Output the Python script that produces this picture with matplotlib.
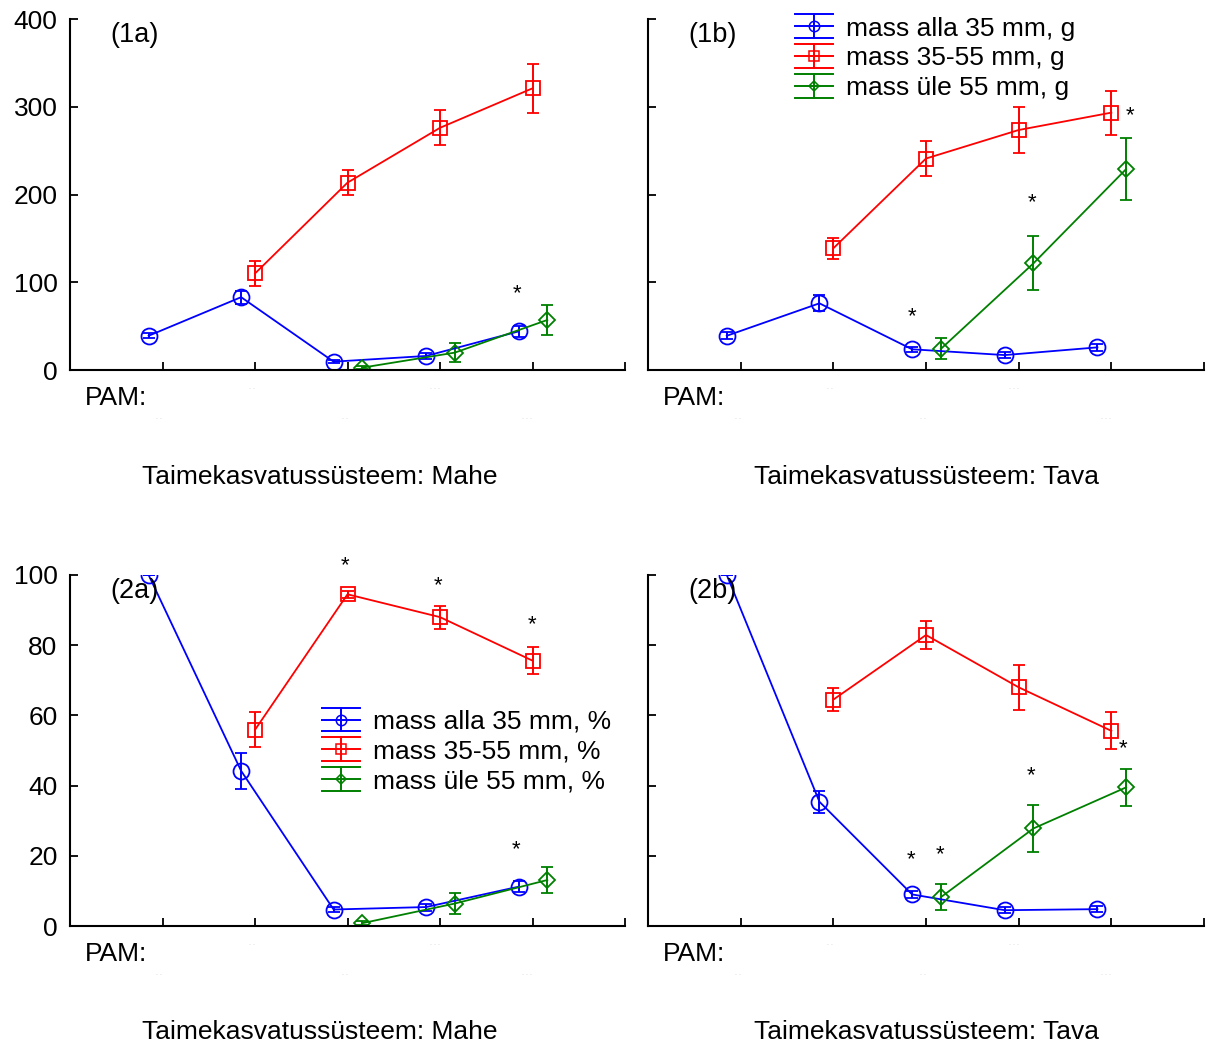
import numpy as np
import matplotlib
matplotlib.use("Agg")
import matplotlib.pyplot as plt
from matplotlib.lines import Line2D
from matplotlib.legend_handler import HandlerBase
from matplotlib.transforms import offset_copy

plt.rcParams['font.family'] = ['Liberation Sans', 'DejaVu Sans']

groups = [1, 2, 3, 4, 5]
red_groups = [2, 3, 4, 5]
green_groups = [3, 4, 5]

# (1a) Mahe, mass in grams
g_mahe_small = [39, 83, 9.5, 16, 44]
g_mahe_small_err = [3, 7.5, 2, 3, 6]
g_mahe_mid = [110, 213.5, 276, 321]
g_mahe_mid_err = [14.4, 14, 20, 28]
g_mahe_big = [2.7, 19.8, 57]
g_mahe_big_err = [2, 10.4, 17]

# (1b) Tava, mass in grams
g_tava_small = [39, 76, 23.6, 17, 25.8]
g_tava_small_err = [4, 9, 3, 3, 4]
g_tava_mid = [138.7, 241, 273.5, 293.3]
g_tava_mid_err = [12, 20, 26.6, 25]
g_tava_big = [24, 121.6, 229]
g_tava_big_err = [12, 30.8, 35]

# (2a) Mahe, share of mass in %
p_mahe_small = [100, 44.2, 4.7, 5.4, 11.2]
p_mahe_small_err = [0, 5.1, 0.8, 1, 1.5]
p_mahe_mid = [55.9, 94.5, 88, 75.6]
p_mahe_mid_err = [5, 1, 3.3, 3.9]
p_mahe_big = [0.8, 6.4, 13.1]
p_mahe_big_err = [0.5, 3.1, 3.8]

# (2b) Tava, share of mass in %
p_tava_small = [100, 35.4, 9.0, 4.5, 4.8]
p_tava_small_err = [0, 3.1, 1, 0.8, 0.8]
p_tava_mid = [64.5, 82.9, 68, 55.6]
p_tava_mid_err = [3.2, 3.9, 6.4, 5.3]
p_tava_big = [8.2, 27.8, 39.5]
p_tava_big_err = [3.7, 6.8, 5.3]

# significance marks (x, y)
stars_1a = [(4.83, 90)]
stars_1b = [(2.85, 64.6), (4.14, 193.7), (5.2, 293.3)]
stars_2a = [(2.97, 103.6), (3.98, 97.9), (4.99, 86.8), (4.82, 22.7)]
stars_2b = [(2.84, 19.7), (3.15, 21.3), (4.13, 43.6), (5.13, 51.5)]

labels_g = ["mass alla 35 mm, g", "mass 35-55 mm, g", "mass üle 55 mm, g"]
labels_p = ["mass alla 35 mm, %", "mass 35-55 mm, %", "mass üle 55 mm, %"]

BLUE, RED, GREEN = "#0000ff", "#ff0000", "#008000"
FS = 19
styles = [
    dict(color=BLUE, marker="o", ms=11.5, shift=-0.15),
    dict(color=RED, marker="s", ms=10.5, shift=0.0),
    dict(color=GREEN, marker="D", ms=8.5, shift=0.16),
]


class ErrKey:
    def __init__(self, color, marker, ms):
        self.color = color
        self.marker = marker
        self.ms = ms


class ErrKeyHandler(HandlerBase):
    # line + marker with full-width caps, as in Statistica legends
    def create_artists(self, legend, orig_handle, xdescent, ydescent,
                       width, height, fontsize, trans):
        x0, x1 = -xdescent, -xdescent + width
        yc = -ydescent + height / 2
        dy = 0.45 * fontsize
        c = orig_handle.color
        arts = []
        for y in (yc - dy, yc, yc + dy):
            arts.append(Line2D([x0, x1], [y, y], color=c, lw=1.4, transform=trans))
        xm = (x0 + x1) / 2
        arts.append(Line2D([xm, xm], [yc - dy, yc + dy], color=c, lw=1.4, transform=trans))
        arts.append(Line2D([xm], [yc], marker=orig_handle.marker, ms=orig_handle.ms,
                           mfc="none", mec=c, mew=1.1, transform=trans))
        return arts


def draw_panel(ax, series, ymax, ystep, stars, tag, show_ylabels):
    xs_list = [groups, red_groups, green_groups]
    for (vals, errs), st, gx in zip(series, styles, xs_list):
        x = np.array(gx) + st["shift"]
        ax.errorbar(x, vals, yerr=errs, color=st["color"], marker=st["marker"],
                    ms=st["ms"], mfc="none", mec=st["color"], mew=1.3, lw=1.3,
                    elinewidth=1.4, capsize=4.5, capthick=1.4, clip_on=True)
    star_tr = offset_copy(ax.transData, fig=ax.figure, y=-3, units="dots")
    for sx, sy in stars:
        ax.text(sx, sy, "*", ha="center", va="center", fontsize=16,
                transform=star_tr, clip_on=False)
    ax.set_xlim(0, 6)
    ax.set_ylim(0, ymax)
    ax.set_xticks([1, 2, 3, 4, 5, 6])
    ax.set_xticklabels([])
    ax.set_yticks(np.arange(0, ymax + 1, ystep))
    if not show_ylabels:
        ax.set_yticklabels([])
    ax.tick_params(direction="in", length=6, width=1.3, labelsize=FS, pad=9)
    for side in ("top", "right"):
        ax.spines[side].set_visible(False)
    for side in ("left", "bottom"):
        ax.spines[side].set_linewidth(1.5)
    ax.text(0.072, 0.955, tag, transform=ax.transAxes, fontsize=19.5, va="center")
    ax.text(0.027, -0.08, "PAM:", transform=ax.transAxes, fontsize=FS, va="center")
    # faint leftover tick labels under the axis
    for i, g in enumerate(groups):
        dots = ". ." if g < 4 else ". . ."
        yy = -0.05 if i % 2 else -0.135
        ax.text(g, yy, dots, transform=ax.get_xaxis_transform(), ha="right",
                va="center", fontsize=5, color="#c8c8c8")


fig = plt.figure(figsize=(12.12, 10.45), dpi=100)
W, H = 1212, 1045
def pos(l, t, r, b):
    return [l / W, 1 - b / H, (r - l) / W, (b - t) / H]

ax1a = fig.add_axes(pos(70, 19, 625, 370))
ax1b = fig.add_axes(pos(648, 19, 1204, 370))
ax2a = fig.add_axes(pos(70, 575, 625, 926))
ax2b = fig.add_axes(pos(648, 575, 1204, 926))

draw_panel(ax1a, [(g_mahe_small, g_mahe_small_err), (g_mahe_mid, g_mahe_mid_err),
                  (g_mahe_big, g_mahe_big_err)], 400, 100, stars_1a, "(1a)", True)
draw_panel(ax1b, [(g_tava_small, g_tava_small_err), (g_tava_mid, g_tava_mid_err),
                  (g_tava_big, g_tava_big_err)], 400, 100, stars_1b, "(1b)", False)
draw_panel(ax2a, [(p_mahe_small, p_mahe_small_err), (p_mahe_mid, p_mahe_mid_err),
                  (p_mahe_big, p_mahe_big_err)], 100, 20, stars_2a, "(2a)", True)
draw_panel(ax2b, [(p_tava_small, p_tava_small_err), (p_tava_mid, p_tava_mid_err),
                  (p_tava_big, p_tava_big_err)], 100, 20, stars_2b, "(2b)", False)

keys = [ErrKey(BLUE, "o", 7.5), ErrKey(RED, "s", 7.5), ErrKey(GREEN, "D", 5.5)]
leg_kw = dict(handler_map={ErrKey: ErrKeyHandler()}, frameon=False, fontsize=FS,
              loc="upper left", borderpad=0, borderaxespad=0, handlelength=1.45,
              handletextpad=0.5, labelspacing=0.215)
ax1b.legend(keys, labels_g, bbox_to_anchor=(0.264, 1.007), **leg_kw)
ax2a.legend(keys, labels_p, bbox_to_anchor=(0.454, 0.616), **leg_kw)

for x, y, name in [(319.5, 477, "Mahe"), (926, 477, "Tava"),
                   (319.5, 1032, "Mahe"), (926, 1032, "Tava")]:
    fig.text(x / W, 1 - y / H, "Taimekasvatussüsteem: " + name,
             ha="center", va="center", fontsize=FS)

fig.savefig("out.png", dpi=100)
